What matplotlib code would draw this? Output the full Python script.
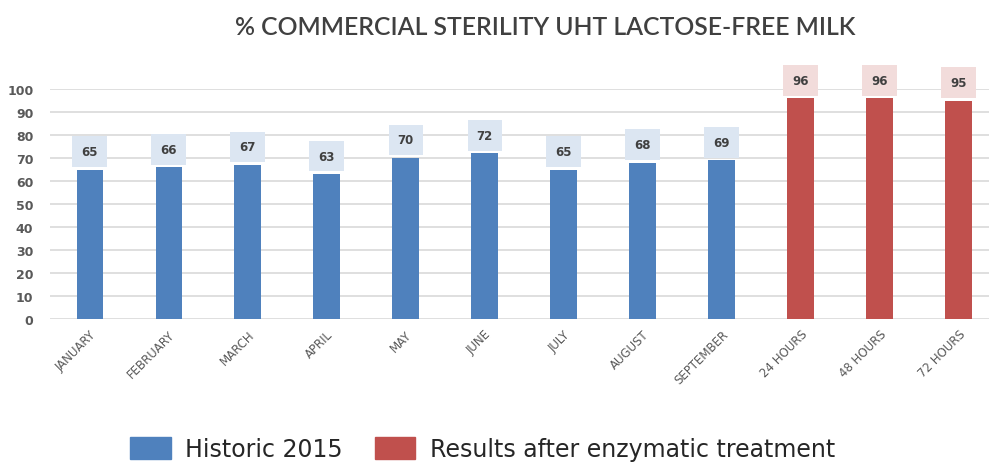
import matplotlib
matplotlib.use("Agg")
import matplotlib.pyplot as plt
from matplotlib.patches import Patch

categories = ["JANUARY", "FEBRUARY", "MARCH", "APRIL", "MAY", "JUNE", "JULY",
              "AUGUST", "SEPTEMBER", "24 HOURS", "48 HOURS", "72 HOURS"]
values = [65, 66, 67, 63, 70, 72, 65, 68, 69, 96, 96, 95]
groups = ["historic"] * 9 + ["enzymatic"] * 3

series_names = {"historic": "Historic 2015", "enzymatic": "Results after enzymatic treatment"}
bar_colors = {"historic": "#4f81bd", "enzymatic": "#c0504d"}
box_colors = {"historic": "#dce6f2", "enzymatic": "#f2dcdb"}

fig = plt.figure(figsize=(9.89, 4.64), dpi=100)
ax = fig.add_axes([0.0506, 0.3103, 0.9585, 0.4957])

x = list(range(len(categories)))
ax.bar(x, values, width=0.33, color=[bar_colors[g] for g in groups], zorder=3)

for xi, v, g in zip(x, values, groups):
    ax.annotate(str(v), (xi, v), xytext=(0, 13), textcoords="offset points",
                ha="center", va="center", fontsize=8.5, fontweight="bold",
                color="#404040", annotation_clip=False, zorder=4,
                bbox=dict(boxstyle="square,pad=0.75", fc=box_colors[g], ec="none"))

ax.set_xlim(-0.5, len(categories) - 0.5)
ax.set_ylim(0, 100)
ax.set_yticks(range(0, 101, 10))
ax.grid(axis="y", color="#d9d9d9", linewidth=1.2, zorder=0)
for s in ax.spines.values():
    s.set_visible(False)
ax.tick_params(axis="both", length=0)
ax.tick_params(axis="y", labelsize=9, labelcolor="#595959", pad=12)
ax.tick_params(axis="x", pad=6)
ax.set_xticks(x)
ax.set_xticklabels(categories, rotation=45, ha="right", rotation_mode="anchor",
                   fontsize=8.5, color="#595959")
for lab in ax.get_yticklabels():
    lab.set_fontweight("bold")

fig.text(0.551, 0.94, "% COMMERCIAL STERILITY UHT LACTOSE-FREE MILK",
         ha="center", va="center", fontsize=17.8, color="#404040", fontweight="semibold",
         family="Lato")

handles = [Patch(color=bar_colors[k], label=series_names[k]) for k in ["historic", "enzymatic"]]
fig.legend(handles=handles, loc="center", bbox_to_anchor=(0.488, 0.03), ncol=2,
           frameon=False, fontsize=17, handlelength=1.7, handleheight=1.0,
           handletextpad=0.6, columnspacing=1.4, labelcolor="#262626")

fig.savefig("out.png", dpi=100)
